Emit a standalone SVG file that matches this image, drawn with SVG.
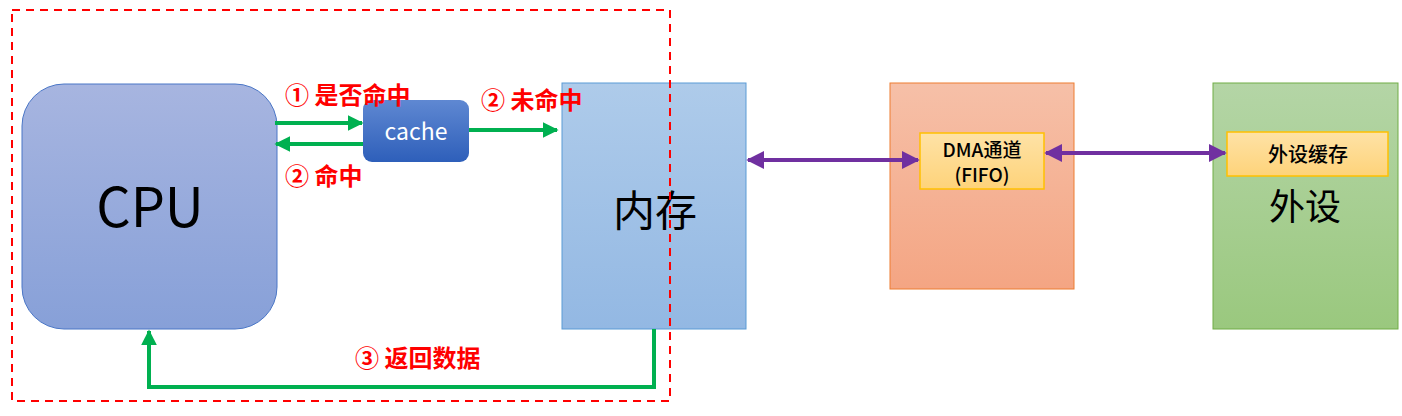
<svg xmlns="http://www.w3.org/2000/svg" width="1402" height="416" viewBox="0 0 1402 416">
<defs>
<linearGradient id="gCpu" x1="0" y1="0" x2="0" y2="1"><stop offset="0" stop-color="#a7b5e0"/><stop offset="1" stop-color="#87a0d8"/></linearGradient>
<linearGradient id="gCache" x1="0" y1="0" x2="0" y2="1"><stop offset="0" stop-color="#5f88d2"/><stop offset="1" stop-color="#2e5fba"/></linearGradient>
<linearGradient id="gMem" x1="0" y1="0" x2="0" y2="1"><stop offset="0" stop-color="#aecbea"/><stop offset="1" stop-color="#93b8e3"/></linearGradient>
<linearGradient id="gDma" x1="0" y1="0" x2="0" y2="1"><stop offset="0" stop-color="#f6c0a8"/><stop offset="1" stop-color="#f4a583"/></linearGradient>
<linearGradient id="gIn" x1="0" y1="0" x2="0" y2="1"><stop offset="0" stop-color="#fee2a6"/><stop offset="1" stop-color="#fed37a"/></linearGradient>
<linearGradient id="gDev" x1="0" y1="0" x2="0" y2="1"><stop offset="0" stop-color="#b4d5a6"/><stop offset="1" stop-color="#9ac87e"/></linearGradient>
<marker id="ag" viewBox="0 0 10 10" refX="9" refY="5" markerWidth="4" markerHeight="4" orient="auto-start-reverse" markerUnits="strokeWidth"><path d="M0,0 L10,5 L0,10 z" fill="#00b050"/></marker>
<marker id="ap" viewBox="0 0 10 10" refX="9" refY="5" markerWidth="4.5" markerHeight="4.5" orient="auto-start-reverse" markerUnits="strokeWidth"><path d="M0,0 L10,5 L0,10 z" fill="#7030a0"/></marker>
</defs>
<style>
.lbl{font-family:"Noto Sans CJK SC","Noto Sans",sans-serif;font-weight:bold;font-size:24px;fill:#ff0000}
.big{font-family:"Noto Sans CJK SC","Liberation Sans",sans-serif;fill:#000}
.g{stroke:#00b050;stroke-width:4;fill:none;marker-end:url(#ag)}
.p{stroke:#7030a0;stroke-width:4;fill:none;marker-end:url(#ap);marker-start:url(#ap)}
</style>
<rect width="1402" height="416" fill="#fff"/>
<g id="cpu">
<rect x="22" y="84" width="255" height="245" rx="42" fill="url(#gCpu)" stroke="#4a76c6" stroke-width="1"/>
<text x="150" y="227" class="big" font-size="54" text-anchor="middle">CPU</text>
</g>
<g id="cache">
<rect x="363" y="100" width="106" height="62" rx="9" fill="url(#gCache)"/>
<text x="416" y="140" font-family="Noto Sans CJK SC, Liberation Sans, sans-serif" font-size="23" fill="#fff" text-anchor="middle">cache</text>
</g>
<g id="memory">
<rect x="562" y="83" width="184" height="246" fill="url(#gMem)" stroke="#5b9bd5" stroke-width="1"/>
<text x="655" y="226" class="big" font-size="42" text-anchor="middle">内存</text>
</g>
<g id="dma">
<rect x="890" y="83" width="184" height="206" fill="url(#gDma)" stroke="#ed7d31" stroke-width="1"/>
<rect x="920" y="133" width="124" height="56" fill="url(#gIn)" stroke="#ffc000" stroke-width="1.5"/>
<text x="982" y="157" font-family="Noto Sans CJK SC, Noto Sans, sans-serif" font-size="19" font-weight="500" fill="#000" text-anchor="middle">DMA通道</text>
<text x="982" y="182" font-family="Noto Sans CJK SC, Noto Sans, sans-serif" font-size="19" font-weight="500" fill="#000" text-anchor="middle">(FIFO)</text>
</g>
<g id="device">
<rect x="1213" y="83" width="185" height="246" fill="url(#gDev)" stroke="#70ad47" stroke-width="1"/>
<rect x="1227" y="132" width="161" height="44" fill="url(#gIn)" stroke="#ffc000" stroke-width="1.5"/>
<text x="1308" y="162" font-family="Noto Sans CJK SC, sans-serif" font-size="20" font-weight="500" fill="#000" text-anchor="middle">外设缓存</text>
<text x="1305" y="220" class="big" font-size="36" text-anchor="middle">外设</text>
</g>
<g id="connectors">
<line x1="275" y1="123" x2="362" y2="123" class="g"/>
<line x1="363" y1="144" x2="276" y2="144" class="g"/>
<line x1="469" y1="130" x2="557" y2="130" class="g"/>
<polyline points="654,329 654,387 149,387 149,331" class="g"/>
<line x1="748" y1="160" x2="918" y2="160" class="p"/>
<line x1="1046" y1="153" x2="1225" y2="153" class="p"/>
</g>
<g id="labels">
<text x="285" y="104" class="lbl">① 是否命中</text>
<text x="481" y="109" class="lbl">② 未命中</text>
<text x="285" y="185" class="lbl">② 命中</text>
<text x="355" y="367" class="lbl">③ 返回数据</text>
</g>
<rect id="scope" x="12" y="10" width="658" height="391" fill="none" stroke="#ff0000" stroke-width="2" stroke-dasharray="8,6"/>
</svg>
